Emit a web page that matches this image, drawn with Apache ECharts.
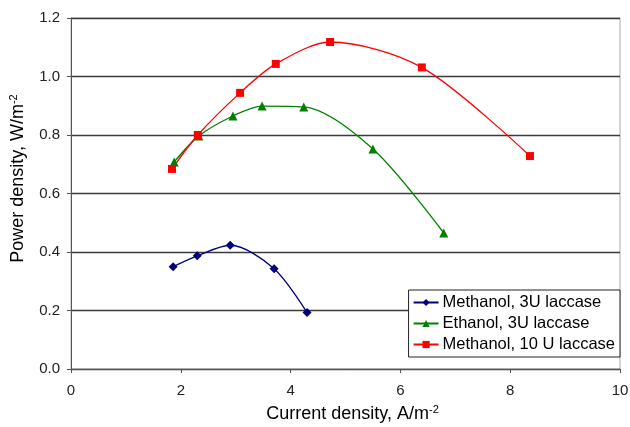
<!DOCTYPE html>
<html><head><meta charset="utf-8">
<script src="https://cdn.jsdelivr.net/npm/echarts@6/dist/echarts.min.js"></script>
<style>html,body{margin:0;padding:0;background:#fff}#c{width:630px;height:427px}</style>
</head><body><div id="c"></div>
<script>
const seriesNames = ['Methanol, 3U laccase', 'Ethanol, 3U laccase', 'Methanol, 10 U laccase'];
const methanol3U = [[1.86,0.35],[2.30,0.387],[2.90,0.423],[3.70,0.343],[4.30,0.193]];
const ethanol3U = [[1.88,0.708],[2.33,0.797],[2.95,0.865],[3.48,0.899],[4.24,0.896],[5.50,0.752],[6.79,0.465]];
const methanol10U = [[1.84,0.684],[2.31,0.800],[3.08,0.944],[3.73,1.043],[4.72,1.118],[6.39,1.031],[8.36,0.728]];
const xTicks = [0,2,4,6,8,10];
const yTicks = [0,0.2,0.4,0.6,0.8,1.0,1.2];

const chart = echarts.init(document.getElementById('c'));
const font = 'Liberation Sans, Arial, sans-serif';
function mk(name, data, color, symbol, size){
  return {name, type:'line', data, smooth:0.3, symbol, symbolSize:size,
    lineStyle:{color, width:1.3}, itemStyle:{color}, animation:false};
}
const supRich = {s:{fontSize:11, verticalAlign:'top', padding:[0,0,10,0], fontFamily:font, color:'#000'}};
chart.setOption({
  animation:false,
  grid:{left:71, right:10, top:18, bottom:58, show:true, borderColor:'#aaa', borderWidth:1, outerBoundsMode:'none'},
  legend:{
    orient:'vertical', right:10, top:290, backgroundColor:'#fff', borderColor:'#222', borderWidth:1,
    padding:[4,5,4,4], itemGap:4, itemWidth:25, itemHeight:9,
    textStyle:{fontFamily:font, fontSize:16.5, color:'#000', padding:[0,0,0,-1]},
    data:seriesNames
  },
  xAxis:{type:'value', min:0, max:10, interval:2,
    name:'Current density, A/m{s|-2}', nameLocation:'middle', nameGap:35,
    nameTextStyle:{fontFamily:font, fontSize:18, color:'#000', rich:supRich, padding:[0,0,0,14]},
    axisLine:{lineStyle:{color:'#555', width:1}}, axisTick:{show:true, length:4, lineStyle:{color:'#555'}},
    axisLabel:{fontFamily:font, fontSize:15, color:'#222', margin:14, formatter:v=>xTicks.includes(v)?String(v):''},
    splitLine:{show:false}
  },
  yAxis:{type:'value', min:0, max:1.2, interval:0.2,
    name:'Power density, W/m{s|-2}', nameLocation:'middle', nameGap:42,
    nameTextStyle:{fontFamily:font, fontSize:18, color:'#000', rich:supRich, padding:[0,0,0,30]},
    axisLine:{show:true, lineStyle:{color:'#555', width:1}}, axisTick:{show:true, length:4, inside:false, lineStyle:{color:'#555'}},
    axisLabel:{fontFamily:font, fontSize:15, color:'#222', margin:11, formatter:v=>v.toFixed(1)},
    splitLine:{show:true, lineStyle:{color:'#3a3a3a', width:1.3}}
  },
  series:[
    mk(seriesNames[0], methanol3U, '#000080', 'diamond', 9),
    mk(seriesNames[1], ethanol3U, '#008000', 'triangle', 9),
    mk(seriesNames[2], methanol10U, '#ff0000', 'rect', 8)
  ]
});
</script></body></html>
